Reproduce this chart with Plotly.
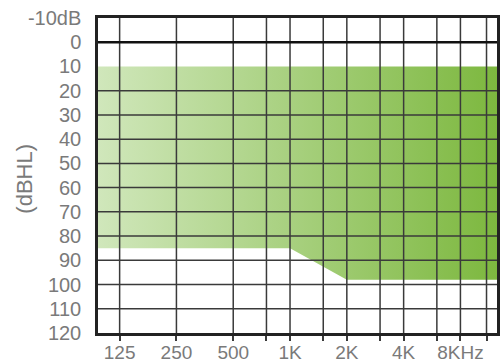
import math
import plotly.graph_objects as go

# Frequency axis (Hz)
freq_min = 96
freq_max = 12500
major_freqs = [125, 250, 500, 1000, 2000, 4000, 8000]
major_labels = ["125", "250", "500", "1K", "2K", "4K", "8KHz"]
minor_freqs = [750, 1500, 3000, 6000, 11000]

# Level axis (dB HL)
db_ticks = [-10, 0, 10, 20, 30, 40, 50, 60, 70, 80, 90, 100, 110, 120]
db_labels = ["-10dB", "0", "10", "20", "30", "40", "50", "60", "70", "80", "90", "100", "110", "120"]
db_grid = [20, 30, 40, 50, 60, 70, 80, 90, 100, 110]
db_zero = 0

# Fitting range area
range_x = [freq_min, 1000, 2000, freq_max, freq_max, freq_min, freq_min]
range_y = [85, 85, 98, 98, 10, 10, 85]

grid_color = "#3a3a3a"
label_color = "#7a7a7a"
font_family = "Liberation Sans, Arial, sans-serif"

fig = go.Figure()

fig.add_trace(go.Scatter(
    x=range_x, y=range_y, mode="lines", fill="toself",
    line=dict(width=0, color="rgba(0,0,0,0)"),
    fillgradient=dict(type="horizontal",
                      colorscale=[[0, "#d0e7bb"], [1, "#7db83f"]]),
    hoverinfo="skip", showlegend=False,
))

# vertical grid lines
all_freqs = sorted(major_freqs + minor_freqs)
vx, vy = [], []
for f in all_freqs:
    vx += [f, f, None]
    vy += [-10, 120, None]
fig.add_trace(go.Scatter(x=vx, y=vy, mode="lines",
                         line=dict(color=grid_color, width=1.5),
                         hoverinfo="skip", showlegend=False))

# horizontal grid lines
hx, hy = [], []
for d in db_grid:
    hx += [freq_min, freq_max, None]
    hy += [d, d, None]
fig.add_trace(go.Scatter(x=hx, y=hy, mode="lines",
                         line=dict(color=grid_color, width=1.5),
                         hoverinfo="skip", showlegend=False))

# 0 dB reference line
fig.add_trace(go.Scatter(x=[freq_min, freq_max], y=[db_zero, db_zero], mode="lines",
                         line=dict(color="#111111", width=2.5),
                         hoverinfo="skip", showlegend=False))

tick_text = []
for f in all_freqs:
    tick_text.append(major_labels[major_freqs.index(f)] if f in major_freqs else "")

fig.update_layout(
    width=500, height=363,
    margin=dict(l=98, r=3, t=18, b=30),
    paper_bgcolor="white", plot_bgcolor="white",
    font=dict(family=font_family, size=20, color=label_color),
    xaxis=dict(
        type="log", range=[math.log10(freq_min), math.log10(freq_max)],
        tickvals=all_freqs, ticktext=tick_text,
        ticks="outside", ticklen=5, tickwidth=1.5, tickcolor=grid_color,
        showgrid=False, zeroline=False, automargin=False,
        showline=True, mirror=True, linewidth=2.5, linecolor="#222222",
        tickfont=dict(size=19, color=label_color),
        ticklabelstandoff=-5,
    ),
    yaxis=dict(
        range=[120, -10],
        tickvals=db_ticks, ticktext=db_labels,
        ticks="", showgrid=False, zeroline=False, automargin=False,
        showline=True, mirror=True, linewidth=2.5, linecolor="#222222",
        tickfont=dict(size=20, color=label_color),
        ticklabelstandoff=10,
    ),
    annotations=[dict(
        text="(dBHL)", textangle=-90, showarrow=False,
        xref="paper", yref="paper", x=-0.183, y=0.49,
        xanchor="center", yanchor="middle",
        font=dict(size=22, color=label_color),
    )],
)

fig.write_html("out.html",
               config={"displayModeBar": False},
               post_script="document.body.style.margin='0';document.body.style.overflow='hidden';")
